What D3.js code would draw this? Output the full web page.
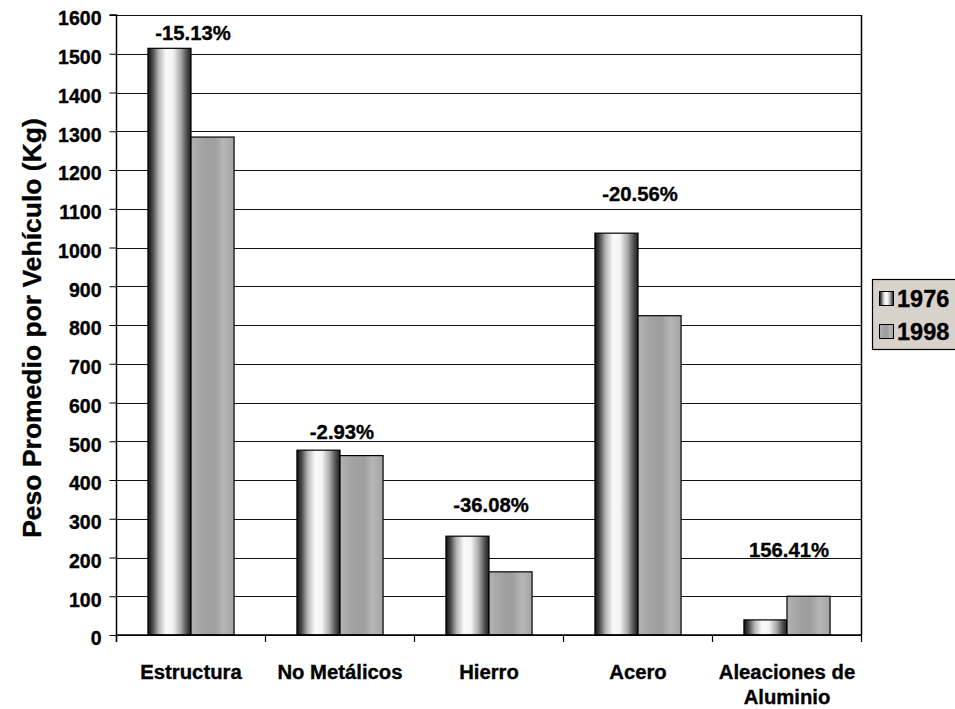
<!DOCTYPE html>
<html>
<head>
<meta charset="utf-8">
<script src="https://cdn.jsdelivr.net/npm/d3@7"></script>
<style>
  html, body { margin: 0; padding: 0; background: #fff; }
  svg { display: block; font-family: "Liberation Sans", Arial, sans-serif; font-weight: bold; }
  svg text { stroke: #000; stroke-width: 0.35px; fill: #000; }
</style>
</head>
<body>
<svg id="chart" width="955" height="709"></svg>
<script>
// Average weight per vehicle by material, 1976 vs 1998
const categories = ["Estructura", "No Metálicos", "Hierro", "Acero", "Aleaciones de\nAluminio"];
const series = ["1976", "1998"];
const values1976 = [1514, 477, 255, 1037, 39];
const values1998 = [1285, 463, 163, 824, 100];
const changeLabels = ["-15.13%", "-2.93%", "-36.08%", "-20.56%", "156.41%"];
const yTicks = [0, 100, 200, 300, 400, 500, 600, 700, 800, 900, 1000, 1100, 1200, 1300, 1400, 1500, 1600];

const svg = d3.select("#chart");
const plot = { left: 116.5, right: 861.5, top: 15, bottom: 635 };

const x = d3.scaleBand().domain(categories).range([plot.left, plot.right]).padding(0);
const xSub = d3.scaleBand().domain(series).range([0, x.bandwidth()]).paddingInner(0).paddingOuter(0.73);
const y = d3.scaleLinear().domain([0, 1600]).range([plot.bottom, plot.top]);

// Gradients for the cylinder-like bars
const defs = svg.append("defs");
function gradient(id, stops) {
  const g = defs.append("linearGradient").attr("id", id)
    .attr("x1", "0%").attr("x2", "100%").attr("y1", "0%").attr("y2", "0%");
  stops.forEach(([o, c]) => g.append("stop").attr("offset", o).attr("stop-color", c));
}
gradient("g1976", [["0%", "#111"], ["10%", "#444"], ["25%", "#b5b5b5"], ["42%", "#fafafa"], ["58%", "#f4f4f4"], ["76%", "#a8a8a8"], ["90%", "#505050"], ["100%", "#1e1e1e"]]);
gradient("g1998", [["0%", "#b2b2b2"], ["35%", "#a0a0a0"], ["55%", "#9e9e9e"], ["75%", "#b6b6b6"], ["100%", "#a4a4a4"]]);

// Horizontal gridlines
svg.append("g").selectAll("line").data(yTicks).join("line")
  .attr("x1", plot.left).attr("x2", plot.right)
  .attr("y1", d => Math.round(y(d)) + 0.5).attr("y2", d => Math.round(y(d)) + 0.5)
  .attr("stroke", "#111").attr("stroke-width", 1);

// Right border of plot area
svg.append("line")
  .attr("x1", plot.right).attr("x2", plot.right).attr("y1", plot.top).attr("y2", plot.bottom)
  .attr("stroke", "#000").attr("stroke-width", 1.5);

// Bars
const rows = categories.map((c, i) => ({ cat: c, vals: [values1976[i], values1998[i]] }));
const groups = svg.append("g").selectAll("g").data(rows).join("g")
  .attr("transform", d => `translate(${x(d.cat)},0)`);
groups.selectAll("rect").data(d => d.vals.map((v, j) => ({ s: series[j], v })))
  .join("rect")
  .attr("x", d => xSub(d.s))
  .attr("width", xSub.bandwidth())
  .attr("y", d => y(d.v))
  .attr("height", d => y(0) - y(d.v))
  .attr("fill", d => `url(#g${d.s})`)
  .attr("stroke", "#000").attr("stroke-width", 1.2);

// Y axis
const yAxis = d3.axisLeft(y).tickValues(yTicks).tickFormat(d3.format("d")).tickSize(7).tickPadding(8);
const gy = svg.append("g").attr("transform", `translate(${plot.left},0)`).call(yAxis);
gy.select(".domain").attr("stroke", "#000").attr("stroke-width", 1.5).attr("d", `M-7,${plot.top}H0V${plot.bottom + 7}`);
gy.selectAll(".tick line").attr("stroke", "#000");
gy.selectAll(".tick text").attr("font-size", 19.5).attr("font-weight", "bold")
  .attr("font-family", "'Liberation Sans', Arial, sans-serif").attr("dy", "0.5em");

// X axis with ticks at category boundaries
svg.append("line").attr("x1", plot.left).attr("x2", plot.right)
  .attr("y1", plot.bottom).attr("y2", plot.bottom).attr("stroke", "#000").attr("stroke-width", 1.5);
const bounds = categories.map(c => x(c)).concat([plot.right]);
svg.append("g").selectAll("line").data(bounds).join("line")
  .attr("x1", d => d).attr("x2", d => d)
  .attr("y1", plot.bottom).attr("y2", plot.bottom + 7)
  .attr("stroke", "#000").attr("stroke-width", 1.2);

// Category labels
const catText = svg.append("g").selectAll("text").data(categories).join("text")
  .attr("x", d => x(d) + x.bandwidth() / 2)
  .attr("y", 679)
  .attr("text-anchor", "middle")
  .attr("font-size", 20.3);
catText.each(function (d) {
  const t = d3.select(this);
  d.split("\n").forEach((line, i) => {
    t.append("tspan").attr("x", x(d) + x.bandwidth() / 2).attr("dy", i === 0 ? 0 : 25).text(line);
  });
});

// Percent-change labels above each pair (pixel gap above the taller bar)
const labelGap = [8, 11, 24, 32, 39];
svg.append("g").selectAll("text").data(rows).join("text")
  .attr("x", d => x(d.cat) + x.bandwidth() / 2 + 2)
  .attr("y", (d, i) => y(d3.max(d.vals)) - labelGap[i])
  .attr("text-anchor", "middle")
  .attr("font-size", 20.3)
  .text((d, i) => changeLabels[i]);

// Y axis title
svg.append("text")
  .attr("transform", `translate(41,328) rotate(-90)`)
  .attr("text-anchor", "middle")
  .attr("font-size", 26.5)
  .text("Peso Promedio por Vehículo (Kg)");

// Legend
const legend = svg.append("g");
legend.append("rect").attr("x", 872.5).attr("y", 279.5).attr("width", 100).attr("height", 70)
  .attr("fill", "#d9d2cb").attr("stroke", "#000").attr("stroke-width", 1.2);
series.forEach((s, i) => {
  const yy = 291 + i * 33;
  legend.append("rect").attr("x", 879.5).attr("y", yy + 0.5).attr("width", 14).attr("height", 14)
    .attr("fill", `url(#g${s})`).attr("stroke", "#000").attr("stroke-width", 1);
  legend.append("text").attr("x", 897).attr("y", yy + 16).attr("font-size", 23.5).text(s);
});
</script>
</body>
</html>
